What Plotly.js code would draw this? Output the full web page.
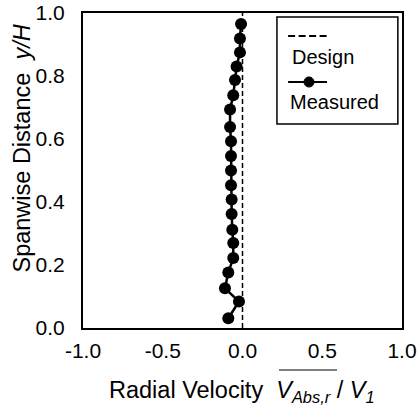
<!DOCTYPE html>
<html>
<head>
<meta charset="utf-8">
<script src="https://cdn.plot.ly/plotly-3.0.1.min.js"></script>
<style>html,body{margin:0;padding:0;background:#fff;}</style>
</head>
<body>
<div id="chart" style="width:418px;height:407px;"></div>
<script>
// Measured radial velocity vs spanwise distance
const measuredY = [0.965,0.919,0.875,0.830,0.787,0.739,0.694,0.638,0.593,0.546,0.500,0.453,0.408,0.362,0.312,0.270,0.222,0.176,0.126,0.084,0.031];
const measuredX = [-0.009,-0.016,-0.016,-0.037,-0.047,-0.058,-0.078,-0.078,-0.072,-0.072,-0.072,-0.072,-0.068,-0.068,-0.064,-0.058,-0.058,-0.089,-0.110,-0.022,-0.089];
// Design: zero radial velocity across the span
const designX = [0, 0];
const designY = [0, 1];
const xTicks = [-1.0, -0.5, 0.0, 0.5, 1.0];
const xTickLabels = ['-1.0', '-0.5', '0.0', '0.5', '1.0'];
const yTicks = [0.0, 0.2, 0.4, 0.6, 0.8, 1.0];
const yTickLabels = ['0.0', '0.2', '0.4', '0.6', '0.8', '1.0'];

const FONT = 'Liberation Sans, Arial, Helvetica, sans-serif';

const traces = [
  {x: designX, y: designY, mode: 'lines', name: 'Design',
   line: {color: '#000', width: 1.5, dash: '5px,3px'}, showlegend: false, hoverinfo: 'skip'},
  {x: measuredX, y: measuredY, mode: 'lines+markers', name: 'Measured',
   line: {color: '#000', width: 2.5}, marker: {color: '#000', size: 12, symbol: 'circle'},
   showlegend: false}
];

const axisCommon = {
  showline: true, mirror: true, linecolor: '#000', linewidth: 2,
  showgrid: false, zeroline: false, ticks: '',
  tickfont: {family: FONT, size: 21, color: '#000'}
};

const layout = {
  width: 418, height: 407,
  margin: {l: 83, r: 16, t: 13, b: 79, pad: 0},
  paper_bgcolor: '#fff', plot_bgcolor: '#fff',
  font: {family: FONT, color: '#000'},
  xaxis: Object.assign({}, axisCommon, {
    range: [-1, 1], tickvals: xTicks, ticktext: xTickLabels, ticklabelstandoff: 3
  }),
  yaxis: Object.assign({}, axisCommon, {
    range: [0, 1], tickvals: yTicks, ticktext: yTickLabels, ticklabelstandoff: 12
  }),
  shapes: [
    // legend box
    {type: 'rect', xref: 'paper', yref: 'paper', x0: 0.608, x1: 0.987, y0: 0.648, y1: 0.987,
     line: {color: '#000', width: 1.5}, fillcolor: '#fff', layer: 'above'},
    // design sample line
    {type: 'line', xref: 'paper', yref: 'paper', x0: 0.643, x1: 0.765, y0: 0.927, y1: 0.927,
     line: {color: '#000', width: 2, dash: '7px,3.5px'}},
    // measured sample line
    {type: 'line', xref: 'paper', yref: 'paper', x0: 0.643, x1: 0.765, y0: 0.781, y1: 0.781,
     line: {color: '#000', width: 2}},
    {type: 'circle', xref: 'paper', yref: 'paper', x0: 0.6928, x1: 0.7241, y0: 0.765, y1: 0.797,
     line: {color: '#000', width: 1}, fillcolor: '#000'},
    // overline for V_Abs,r
    {type: 'line', xref: 'paper', yref: 'paper', x0: (279-83)/319, x1: (337-83)/319,
     y0: (328-370)/315, y1: (328-370)/315, line: {color: '#000', width: 1.2}}
  ],
  annotations: [
    {xref: 'paper', yref: 'paper', x: 0.649, y: 0.861, xanchor: 'left', yanchor: 'middle',
     text: 'Design', showarrow: false, font: {family: FONT, size: 20, color: '#000'}},
    {xref: 'paper', yref: 'paper', x: 0.643, y: 0.718, xanchor: 'left', yanchor: 'middle',
     text: 'Measured', showarrow: false, font: {family: FONT, size: 20, color: '#000'}},
    {xref: 'paper', yref: 'paper', x: 0.497, y: -0.2, xanchor: 'center', yanchor: 'middle',
     text: 'Radial Velocity  <i>V<sub>Abs,r</sub></i> / <i>V<sub>1</sub></i>', showarrow: false,
     font: {family: FONT, size: 23.5, color: '#000'}},
    {xref: 'paper', yref: 'paper', x: -0.191, y: 0.57, xanchor: 'center', yanchor: 'middle',
     textangle: -90, text: 'Spanwise Distance  <i>y/H</i>', showarrow: false,
     font: {family: FONT, size: 23.5, color: '#000'}}
  ]
};

Plotly.newPlot('chart', traces, layout, {displayModeBar: false, staticPlot: true});
</script>
</body>
</html>
